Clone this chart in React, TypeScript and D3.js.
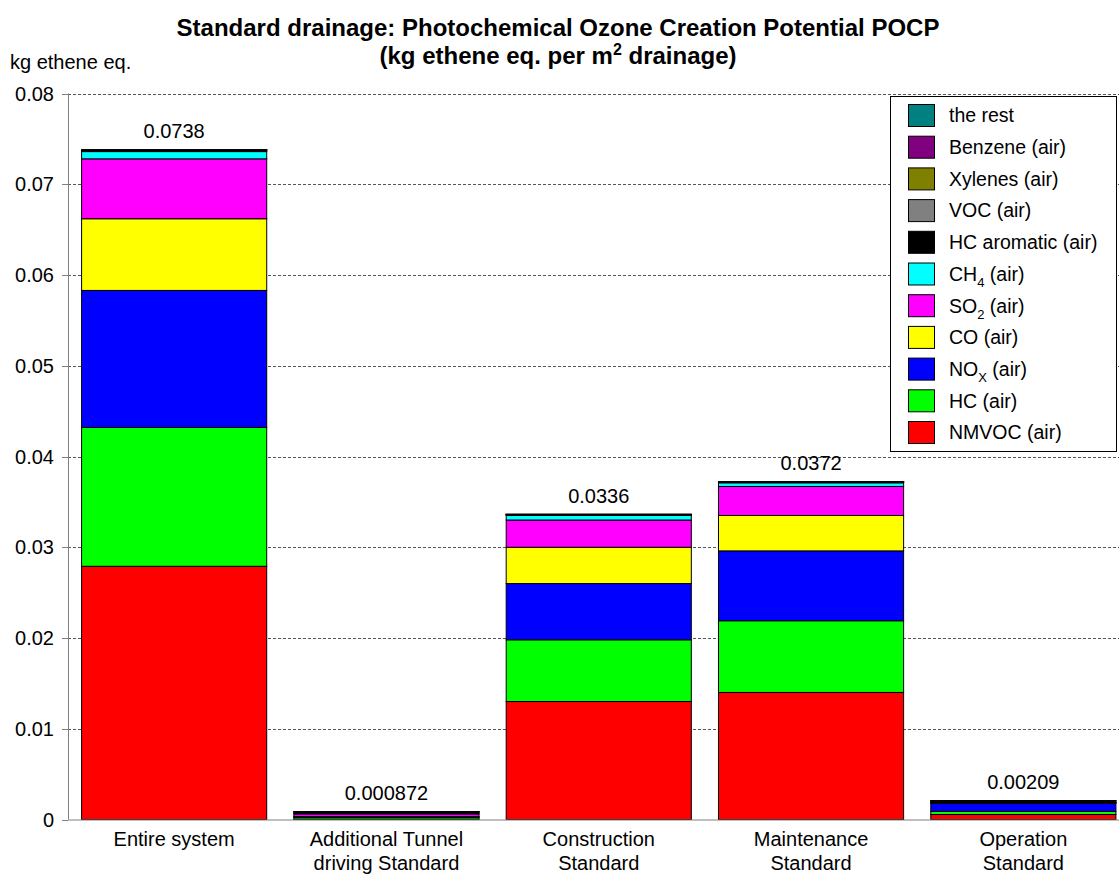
import * as d3 from "d3"

// categories (two-line labels)
const categories = ["Entire system", "Additional Tunnel", "Construction", "Maintenance", "Operation"]
const categoryLines = [
  ["Entire system"],
  ["Additional Tunnel", "driving Standard"],
  ["Construction", "Standard"],
  ["Maintenance", "Standard"],
  ["Operation", "Standard"],
]
const totalLabels = ["0.0738", "0.000872", "0.0336", "0.0372", "0.00209"]

// series values, bottom to top
const nmvoc = [0.0279, 0.00005, 0.013, 0.014, 0.00055]
const hc = [0.0153, 0.0002, 0.0068, 0.0079, 0.00035]
const nox = [0.0151, 0.00005, 0.0062, 0.0077, 0.0009]
const co = [0.0079, 0.00002, 0.004, 0.0039, 0.00003]
const so2 = [0.0066, 0.0003, 0.003, 0.0032, 0.00002]
const ch4 = [0.0008, 0.00002, 0.0005, 0.0004, 0.00002]
const hcAromatic = [0.00015, 0.0002, 0.0001, 0.0001, 0.0002]
const voc = [0.00002, 0.00001, 0.00001, 0.00001, 0.00001]
const xylenes = [0.00001, 0.00001, 0.00001, 0.00001, 0.00001]
const benzene = [0.00001, 0.00001, 0.00001, 0.00001, 0.0]
const theRest = [0.00001, 0.00001, 0.00001, 0.00001, 0.0]

const yTicks = [0, 0.01, 0.02, 0.03, 0.04, 0.05, 0.06, 0.07, 0.08]

const series = [
  { key: "NMVOC", name: "NMVOC (air)", sub: "", rest: "", color: "#ff0000", values: nmvoc },
  { key: "HC", name: "HC (air)", sub: "", rest: "", color: "#00ff00", values: hc },
  { key: "NOx", name: "NO", sub: "X", rest: " (air)", color: "#0000ff", values: nox },
  { key: "CO", name: "CO (air)", sub: "", rest: "", color: "#ffff00", values: co },
  { key: "SO2", name: "SO", sub: "2", rest: " (air)", color: "#ff00ff", values: so2 },
  { key: "CH4", name: "CH", sub: "4", rest: " (air)", color: "#00ffff", values: ch4 },
  { key: "HCarom", name: "HC aromatic (air)", sub: "", rest: "", color: "#000000", values: hcAromatic },
  { key: "VOC", name: "VOC (air)", sub: "", rest: "", color: "#808080", values: voc },
  { key: "Xylenes", name: "Xylenes (air)", sub: "", rest: "", color: "#808000", values: xylenes },
  { key: "Benzene", name: "Benzene (air)", sub: "", rest: "", color: "#800080", values: benzene },
  { key: "rest", name: "the rest", sub: "", rest: "", color: "#008080", values: theRest },
]

const W = 1119
const H = 876
const FONT = "'Liberation Sans', Arial, sans-serif"

export default function App() {
  const plotLeft = 68
  const plotRight = 1129.5
  const y0 = 819.5
  const yTop = 93.5

  const x = d3
    .scaleBand<string>()
    .domain(categories)
    .range([plotLeft, plotRight])
    .paddingInner(0.128)
    .paddingOuter(0.064)

  const y = d3.scaleLinear().domain([0, 0.08]).range([y0, yTop])

  const rows = categories.map((c, i) => {
    const r: Record<string, any> = { cat: c }
    series.forEach((s) => (r[s.key] = s.values[i]))
    return r
  })
  const stacked = d3.stack<any>().keys(series.map((s) => s.key))(rows)
  const totals = categories.map((_, i) => d3.sum(series, (s) => s.values[i]))

  const legendItems = series.slice().reverse()

  return (
    <svg
      width={W}
      height={H}
      style={{ position: "absolute", left: 0, top: 0, background: "#fff" }}
      fontFamily={FONT}
    >
      {/* title */}
      <text x={558} y={36} textAnchor="middle" fontSize={24} fontWeight="bold">
        Standard drainage: Photochemical Ozone Creation Potential POCP
      </text>
      <text x={558} y={64} textAnchor="middle" fontSize={24} fontWeight="bold">
        (kg ethene eq. per m<tspan dy={-9} fontSize={16}>2</tspan>
        <tspan dy={9}> drainage)</tspan>
      </text>
      <text x={10} y={69} fontSize={20}>
        kg ethene eq.
      </text>

      {/* gridlines */}
      {yTicks.slice(1).map((t) => (
        <line
          key={t}
          x1={plotLeft}
          x2={W}
          y1={Math.round(y(t)) + 0.5}
          y2={Math.round(y(t)) + 0.5}
          stroke="#555"
          strokeWidth={1}
          strokeDasharray="3,2"
        />
      ))}

      {/* bars */}
      {stacked.map((layer, li) => (
        <g key={layer.key} fill={series[li].color}>
          {layer.map((d, i) => {
            const h = y(d[0]) - y(d[1])
            if (h <= 0) return null
            return (
              <rect
                key={i}
                x={x(categories[i])}
                y={y(d[1])}
                width={x.bandwidth()}
                height={h}
                stroke="#000"
                strokeWidth={1}
              />
            )
          })}
        </g>
      ))}

      {/* totals */}
      {totals.map((t, i) => (
        <text
          key={i}
          x={(x(categories[i]) as number) + x.bandwidth() / 2}
          y={y(t) - 11.5}
          textAnchor="middle"
          fontSize={20}
        >
          {totalLabels[i]}
        </text>
      ))}

      {/* axes */}
      <line x1={plotLeft + 0.5} x2={plotLeft + 0.5} y1={yTop} y2={y0} stroke="#808080" />
      <line x1={plotLeft} x2={W} y1={y0 + 0.5} y2={y0 + 0.5} stroke="#808080" />
      {yTicks.map((t) => (
        <g key={t}>
          <line
            x1={plotLeft - 6}
            x2={plotLeft}
            y1={Math.round(y(t)) + 0.5}
            y2={Math.round(y(t)) + 0.5}
            stroke="#808080"
          />
          <text x={54} y={y(t)} dy="0.35em" textAnchor="end" fontSize={20}>
            {t === 0 ? "0" : d3.format(".2f")(t)}
          </text>
        </g>
      ))}
      {categoryLines.map((lines, i) => (
        <text
          key={i}
          x={(x(categories[i]) as number) + x.bandwidth() / 2}
          textAnchor="middle"
          fontSize={20}
        >
          {lines.map((l, j) => (
            <tspan key={j} x={(x(categories[i]) as number) + x.bandwidth() / 2} y={846 + j * 24}>
              {l}
            </tspan>
          ))}
        </text>
      ))}

      {/* legend */}
      <rect x={890.5} y={96.5} width={226} height={355} fill="#fff" stroke="#000" />
      {legendItems.map((s, i) => {
        const ty = 104.5 + i * 31.7
        return (
          <g key={s.key}>
            <rect x={908.5} y={ty} width={26} height={22} fill={s.color} stroke="#000" />
            <text x={949} y={ty + 11} dy="0.35em" fontSize={19.5}>
              {s.name}
              {s.sub ? (
                <>
                  <tspan dy={6} fontSize={13}>
                    {s.sub}
                  </tspan>
                  <tspan dy={-6}>{s.rest}</tspan>
                </>
              ) : null}
            </text>
          </g>
        )
      })}
    </svg>
  )
}
